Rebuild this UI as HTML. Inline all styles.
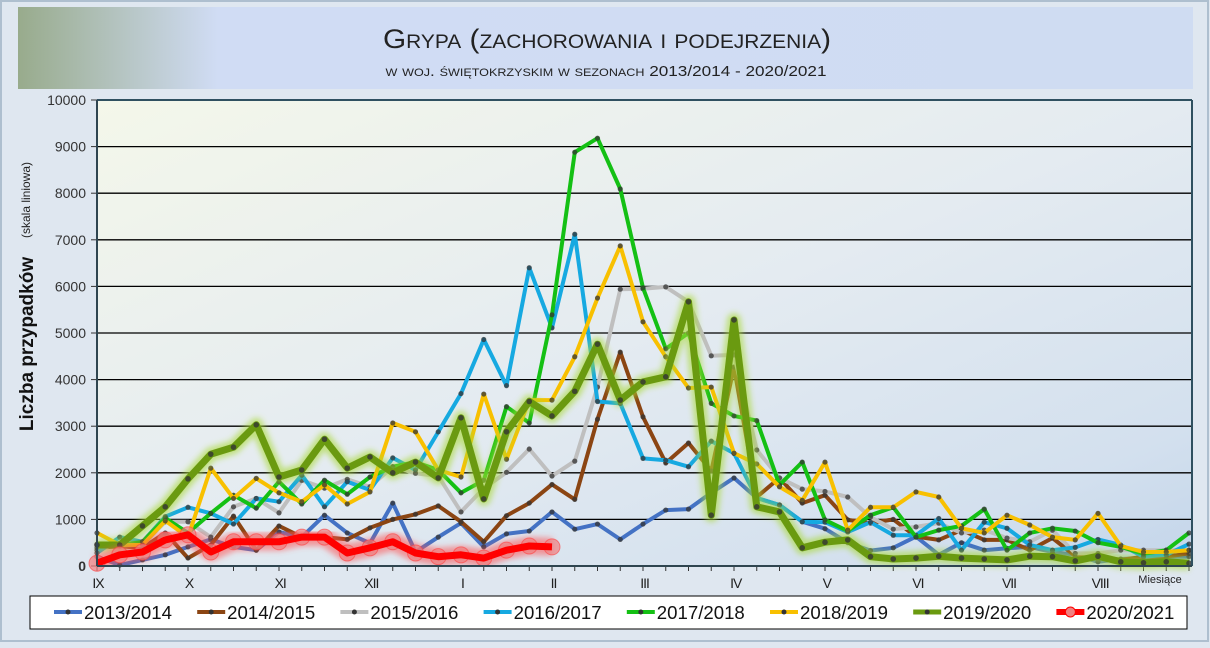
<!DOCTYPE html>
<html><head><meta charset="utf-8">
<style>
html,body{margin:0;padding:0;}
body{width:1210px;height:643px;overflow:hidden;background:#dfe7f0;font-family:"Liberation Sans",sans-serif;}
</style></head>
<body>
<svg id="s" width="1210" height="643" xmlns="http://www.w3.org/2000/svg">
<defs>
<linearGradient id="tg" x1="0" y1="0" x2="1" y2="0">
<stop offset="0" stop-color="#98ab8c"/><stop offset="0.17" stop-color="#d0dcf4"/><stop offset="1" stop-color="#cfdcf2"/>
</linearGradient>
<linearGradient id="pg" x1="0" y1="0" x2="1" y2="1">
<stop offset="0" stop-color="#f4f7ea"/><stop offset="0.5" stop-color="#e4ebf1"/><stop offset="0.85" stop-color="#d3e0ee"/><stop offset="1" stop-color="#c3d5ea"/>
</linearGradient>
<filter id="gg" x="-10%" y="-10%" width="120%" height="120%"><feGaussianBlur stdDeviation="3"/></filter>
</defs>
<rect x="0" y="0" width="1210" height="643" fill="#dfe7f0"/>
<rect x="1" y="1" width="1207" height="640" fill="none" stroke="#aebfcf" stroke-width="2"/>
<rect x="18" y="7" width="1175" height="82" fill="url(#tg)"/>
<text x="607" y="48" text-anchor="middle" font-size="27" fill="#222" style="font-variant:small-caps" textLength="448" lengthAdjust="spacingAndGlyphs">Grypa (zachorowania i podejrzenia)</text>
<text x="606" y="76" text-anchor="middle" font-size="15" fill="#222" style="font-variant:small-caps" textLength="441" lengthAdjust="spacingAndGlyphs">w woj. świętokrzyskim w sezonach 2013/2014 - 2020/2021</text>
<rect x="97" y="100" width="1095" height="466" fill="url(#pg)"/>
<g id="grid"></g>
<g id="series"></g>
<line x1="97" y1="100" x2="1192" y2="100" stroke="#2f5060" stroke-width="2"/>
<line x1="97" y1="100" x2="97" y2="566" stroke="#2f4550" stroke-width="2"/>
<line x1="1192" y1="100" x2="1192" y2="566" stroke="#2f5060" stroke-width="2"/>
<line x1="97" y1="566" x2="1192" y2="566" stroke="#2f4550" stroke-width="2"/>
<text transform="translate(33,344) rotate(-90)" text-anchor="middle" font-size="19" font-weight="bold" fill="#111">Liczba przypadków</text>
<text transform="translate(30,200) rotate(-90)" text-anchor="middle" font-size="12" fill="#222">(skala liniowa)</text>
<text x="1160" y="583" text-anchor="middle" font-size="11" fill="#222">Miesiące</text>
<rect x="30" y="596" width="1157" height="33" fill="#fff" stroke="#000" stroke-width="1"/>
<g id="legend"></g>
</svg>
<script>
var NS="http://www.w3.org/2000/svg";
function el(p,t,a,txt){var e=document.createElementNS(NS,t);for(var k in a)e.setAttribute(k,a[k]);if(txt!==undefined)e.textContent=txt;p.appendChild(e);return e;}
var grid=document.getElementById('grid');
function Y(v){return 566-v*0.0466;}
function X(i){return 97+i*22.75;}
for(var k=0;k<=10;k++){var y=Y(k*1000);
 if(k>0&&k<10)el(grid,'line',{x1:97,y1:y,x2:1192,y2:y,stroke:'#000','stroke-width':1.3});
 el(grid,'line',{x1:91,y1:y,x2:97,y2:y,stroke:'#333','stroke-width':1});
 el(grid,'text',{x:86,y:y+5,'text-anchor':'end','font-size':14,fill:'#333','font-weight':k==0?'bold':'normal'},String(k*1000));
}
for(var i=0;i<=48;i++)el(grid,'line',{x1:X(i),y1:566,x2:X(i),y2:571,stroke:'#333','stroke-width':1});
var months=['IX','X','XI','XII','I','II','III','IV','V','VI','VII','VIII'];
months.forEach(function(m,j){el(grid,'text',{x:98+j*91.1,y:588,'text-anchor':'middle','font-size':14,fill:'#222',style:'letter-spacing:-1px'},m);});
var S=[
{n:'2013/2014',c:'#4472c4',d:[200,20,130,240,410,570,410,340,730,620,1090,710,490,1350,300,620,920,410,690,750,1160,790,900,570,900,1200,1220,1570,1890,1460,1310,950,800,500,330,390,630,240,500,340,380,410,300,240,90,150,170,200,200]},
{n:'2014/2015',c:'#8b4513',d:[390,420,390,710,170,450,1070,340,860,620,620,570,820,1000,1110,1290,950,520,1080,1350,1750,1430,3150,4590,3200,2210,2640,2040,4270,1480,1890,1350,1520,990,920,1000,630,560,770,560,560,340,600,210,210,130,200,200,270]},
{n:'2015/2016',c:'#bfbfbf',d:[340,490,450,950,950,620,1270,1450,1140,1840,1670,1860,1700,2130,1990,1930,1160,1670,2010,2510,1930,2250,3840,5940,5950,5990,5670,4510,4530,2490,1890,1650,1600,1480,1050,790,840,920,710,770,600,520,770,270,270,340,340,340,340]},
{n:'2016/2017',c:'#16a9e1',d:[280,620,520,1060,1260,1130,900,1450,1380,1950,1270,1810,1630,2320,2060,2880,3700,4860,3870,6400,5110,7120,3530,3490,2310,2270,2130,2680,2420,1460,1310,950,940,730,940,660,660,1020,340,940,810,450,340,400,570,450,200,240,470]},
{n:'2017/2018',c:'#14c014',d:[470,450,520,1030,710,1130,1520,1240,1810,1330,1840,1540,1910,2130,2230,2060,1570,1840,3420,3070,5390,8880,9180,8090,5970,4660,5000,3490,3220,3120,1740,2230,990,750,1090,1260,620,770,860,1220,340,710,810,750,500,410,260,340,710]},
{n:'2018/2019',c:'#f8c000',d:[710,450,450,970,620,2100,1450,1880,1570,1380,1740,1330,1590,3070,2880,2060,1910,3690,2290,3560,3560,4490,5750,6870,5240,4490,3820,3840,2420,2190,1700,1410,2230,770,1260,1260,1590,1480,810,710,1090,880,620,560,1130,430,300,300,340]}
];
var olive={n:'2019/2020',c:'#6a9a10',d:[450,450,860,1270,1870,2400,2550,3030,1910,2060,2720,2100,2340,2000,2230,1890,3180,1440,2880,3530,3220,3750,4760,3560,3950,4060,5670,1090,5280,1270,1160,390,510,560,200,150,170,210,170,150,130,210,200,110,210,90,70,90,60]};
var red={n:'2020/2021',c:'#ff0000',d:[60,240,300,560,670,300,520,520,520,620,620,280,390,520,280,200,240,170,340,430,410]};
var G=document.getElementById('series');
function pts(d){return d.map(function(v,i){return X(i).toFixed(1)+','+Y(v).toFixed(1);}).join(' ');}
S.forEach(function(s){
 el(G,'polyline',{points:pts(s.d),fill:'none',stroke:s.c,'stroke-width':4,'stroke-linejoin':'round'});
 s.d.forEach(function(v,i){el(G,'circle',{cx:X(i),cy:Y(v),r:2.6,fill:'#333','fill-opacity':0.75});});
});
el(G,'polyline',{points:pts(olive.d),fill:'none',stroke:'#a8d830','stroke-width':14,'stroke-opacity':0.6,filter:'url(#gg)','stroke-linejoin':'round'});
el(G,'polyline',{points:pts(olive.d),fill:'none',stroke:olive.c,'stroke-width':7,'stroke-linejoin':'round'});
olive.d.forEach(function(v,i){el(G,'circle',{cx:X(i),cy:Y(v),r:2.8,fill:'#333','fill-opacity':0.8});});
el(G,'polyline',{points:pts(red.d),fill:'none',stroke:'#ff5050','stroke-width':18,'stroke-opacity':0.55,filter:'url(#gg)','stroke-linejoin':'round'});
red.d.forEach(function(v,i){el(G,'circle',{cx:X(i),cy:Y(v),r:8,fill:'#f08080','fill-opacity':0.7,stroke:'#ff4040','stroke-opacity':0.6});});
el(G,'polyline',{points:pts(red.d),fill:'none',stroke:'#ff0000','stroke-width':7,'stroke-linejoin':'round'});
var L=document.getElementById('legend');
S.concat([olive,red]).forEach(function(s,j){
 var x=54+j*143.2;
 var w=s===red?6:(s===olive?5:4);
 el(L,'line',{x1:x,y1:612,x2:x+28,y2:612,stroke:s.c,'stroke-width':w});
 if(s===red)el(L,'circle',{cx:x+14,cy:612,r:5,fill:'#f08080',stroke:'#f00'});
 else el(L,'circle',{cx:x+14,cy:612,r:2.5,fill:'#333'});
 el(L,'text',{x:x+30,y:619,'font-size':18,fill:'#111',textLength:88,lengthAdjust:'spacingAndGlyphs'},s.n);
});
</script>
</body></html>
